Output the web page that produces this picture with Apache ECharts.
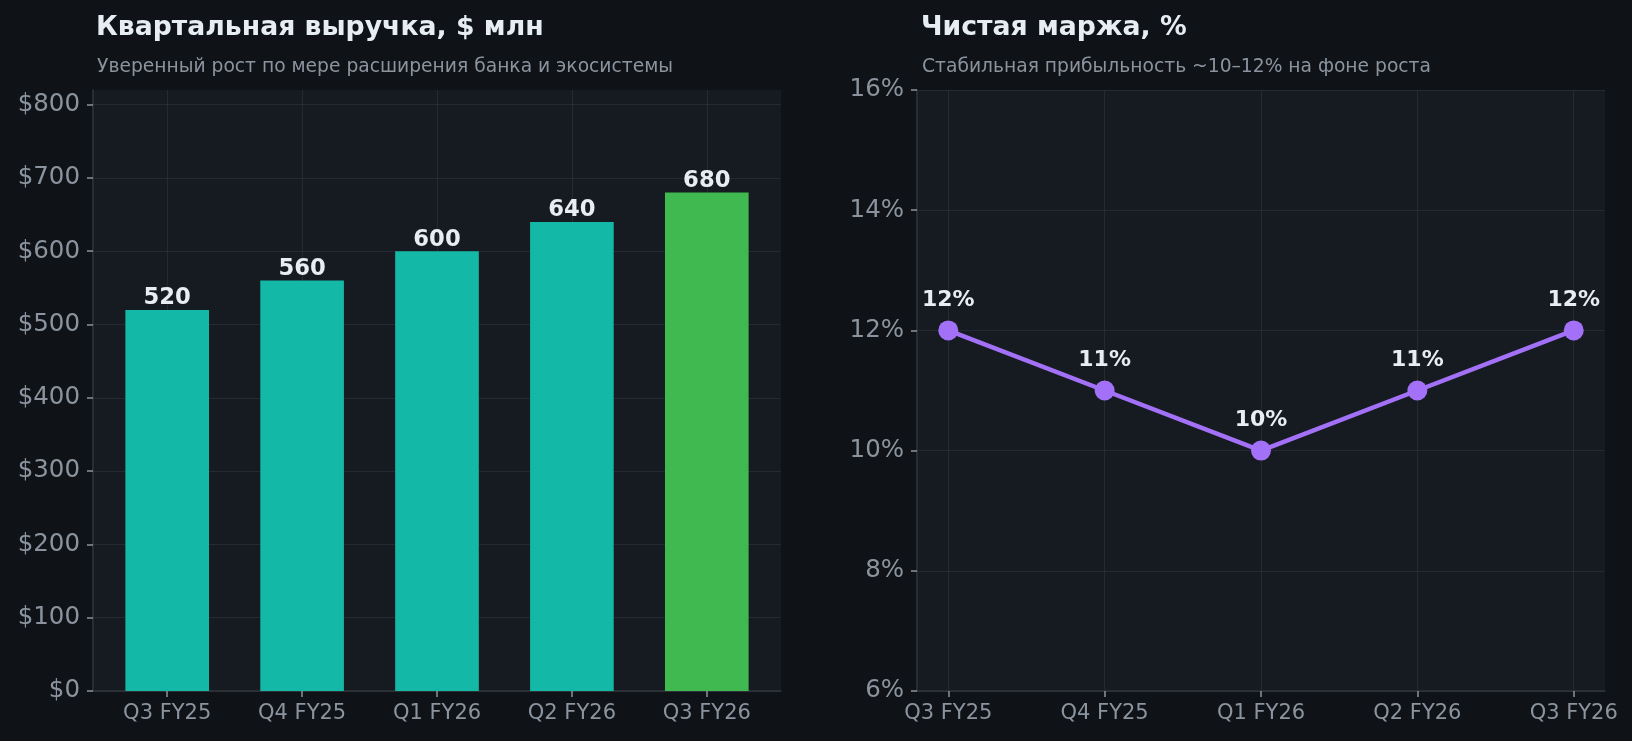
<!DOCTYPE html>
<html>
<head>
<meta charset="utf-8">
<title>Выручка и маржа</title>
<script src="https://cdn.jsdelivr.net/npm/echarts@6/dist/echarts.min.js"></script>
<style>
    html, body { margin: 0; padding: 0; background: #0f1318; }
    #chart { width: 1632px; height: 741px; }
</style>
</head>
<body>
<div id="chart"></div>
<script>
// данные
var quarters = ['Q3 FY25', 'Q4 FY25', 'Q1 FY26', 'Q2 FY26', 'Q3 FY26'];
var revenue = [520, 560, 600, 640, 680];
var margin = [12, 11, 10, 11, 12];
var revenueTicks = [0, 100, 200, 300, 400, 500, 600, 700, 800];
var marginTicks = [6, 8, 10, 12, 14, 16];
var quarterTicks = [0, 1, 2, 3, 4];
var highlightQuarter = 'Q3 FY26';

var FONT = 'DejaVu Sans';
var C_TEXT = '#e6edf3';
var C_MUTED = '#8b949e';
var C_GRID = 'rgba(48,54,61,0.6)';
var C_SPINE = '#30363d';

function titleItem(text, left, top, size, bold, color) {
    return {
        text: text,
        left: left,
        top: top,
        textStyle: {
            fontFamily: FONT,
            fontSize: size,
            fontWeight: bold ? 'bold' : 'normal',
            color: color
        }
    };
}

function quarterAxis(gridIndex, min, max) {
    return {
        type: 'value',
        gridIndex: gridIndex,
        min: min,
        max: max,
        axisLine: {show: true, onZero: false, lineStyle: {color: C_SPINE, width: 1.5}},
        axisTick: {show: true, length: 6, customValues: quarterTicks, lineStyle: {color: C_MUTED, width: 1.5}},
        axisLabel: {
            customValues: quarterTicks,
            margin: 12,
            fontFamily: FONT,
            fontSize: 21,
            color: C_MUTED,
            formatter: function (v) { return quarters[v]; }
        },
        splitLine: {show: true, lineStyle: {color: C_GRID, width: 1}}
    };
}

function valueAxis(gridIndex, min, max, interval, ticks, fmt) {
    return {
        type: 'value',
        gridIndex: gridIndex,
        min: min,
        max: max,
        interval: interval,
        axisLine: {show: true, onZero: false, lineStyle: {color: C_SPINE, width: 1.5}},
        axisTick: {show: true, length: 6, customValues: ticks, lineStyle: {color: C_MUTED, width: 1.5}},
        axisLabel: {
            customValues: ticks,
            margin: 13,
            fontFamily: FONT,
            fontSize: 24.5,
            color: C_MUTED,
            formatter: fmt
        },
        splitLine: {show: true, lineStyle: {color: C_GRID, width: 1}}
    };
}

var barData = quarters.map(function (q, i) {
    return {
        value: [i, revenue[i]],
        itemStyle: {color: q === highlightQuarter ? '#3fb950' : '#14b8a6'}
    };
});

var lineData = quarters.map(function (q, i) {
    return [i, margin[i]];
});

var myChart = echarts.init(document.getElementById('chart'));

var options = {
    backgroundColor: '#0f1318',
    animation: false,
    title: [
        titleItem('Квартальная выручка, $ млн', 91, 10, 26.7, true, C_TEXT),
        titleItem('Уверенный рост по мере расширения банка и экосистемы', 92, 53, 18.7, false, C_MUTED),
        titleItem('Чистая маржа, %', 916, 10, 26.7, true, C_TEXT),
        titleItem('Стабильная прибыльность ~10–12% на фоне роста', 917, 53, 18.7, false, C_MUTED)
    ],
    grid: [
        {left: 93, right: 851, top: 90, bottom: 50, show: true, backgroundColor: '#161b22', borderWidth: 0},
        {left: 917, right: 27, top: 90, bottom: 50, show: true, backgroundColor: '#161b22', borderWidth: 0}
    ],
    xAxis: [
        quarterAxis(0, -0.55, 4.55),
        quarterAxis(1, -0.2, 4.2)
    ],
    yAxis: [
        valueAxis(0, 0, 820, 100, revenueTicks, function (v) { return '$' + v; }),
        valueAxis(1, 6, 16, 2, marginTicks, function (v) { return v + '%'; })
    ],
    series: [
        {
            name: 'Выручка',
            type: 'bar',
            xAxisIndex: 0,
            yAxisIndex: 0,
            barWidth: '62%',
            data: barData,
            label: {
                show: true,
                position: 'top',
                distance: 0,
                fontFamily: FONT,
                fontSize: 22.7,
                fontWeight: 'bold',
                color: C_TEXT,
                formatter: function (p) { return p.value[1]; }
            }
        },
        {
            name: 'Маржа',
            type: 'line',
            xAxisIndex: 1,
            yAxisIndex: 1,
            data: lineData,
            symbol: 'circle',
            symbolSize: 20,
            lineStyle: {color: '#a371f7', width: 4.5},
            itemStyle: {color: '#a371f7'},
            label: {
                show: true,
                position: 'top',
                distance: 9,
                fontFamily: FONT,
                fontSize: 22,
                fontWeight: 'bold',
                color: C_TEXT,
                formatter: function (p) { return p.value[1] + '%'; }
            }
        }
    ]
};

myChart.setOption(options);
</script>
</body>
</html>
